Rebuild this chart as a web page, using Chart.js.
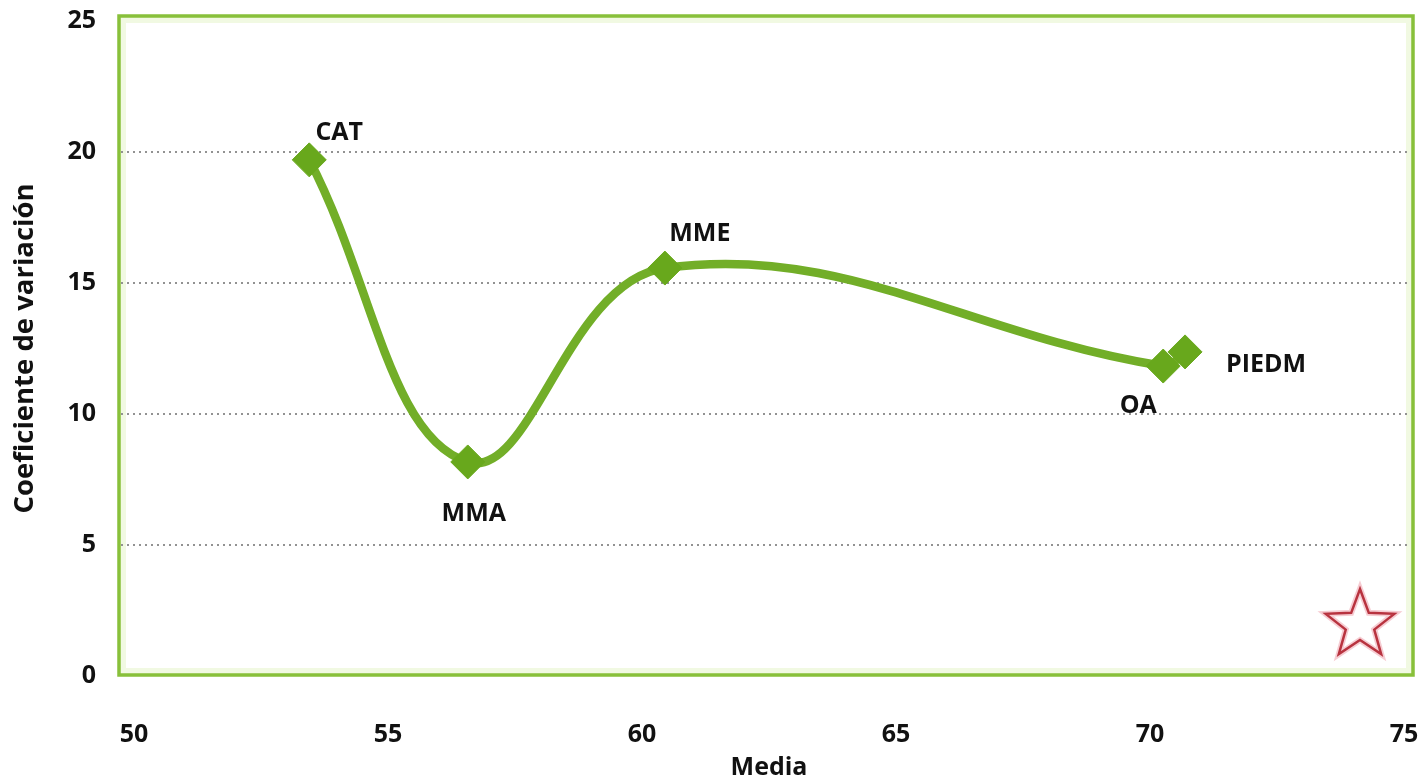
<!DOCTYPE html>
<html>
<head>
<meta charset="utf-8">
<script src="https://cdn.jsdelivr.net/npm/chart.js@4/dist/chart.umd.min.js"></script>
<style>
  html, body { margin: 0; padding: 0; background: #ffffff; }
  #wrap { width: 1423px; height: 779px; position: relative; }
</style>
</head>
<body>
<div id="wrap"><canvas id="c" width="1423" height="779"></canvas></div>
<script>
// Groups, their mean (Media) and coefficient of variation
const groups = ['CAT', 'MMA', 'MME', 'OA', 'PIEDM'];
const media = [53.45, 56.57, 60.45, 70.26, 70.69];
const coefVariacion = [19.7, 8.17, 15.57, 11.83, 12.37];
const xTicks = [50, 55, 60, 65, 70, 75];
const yTicks = [0, 5, 10, 15, 20, 25];

const FONT = '"Open Sans", "Noto Sans", sans-serif';
const LINE_GREEN = '#72ae28';
const MARK_GREEN = '#68a81c';

// Where each group name sits relative to its marker (pixels)
const nameOffsets = {
  CAT: [30, -27], MMA: [6, 52], MME: [35, -34], OA: [-25, 40], PIEDM: [81, 13]
};

const points = media.map((m, i) => ({ x: m, y: coefVariacion[i] }));

// Keep the plot area exactly where the layout padding puts it
function noOverflow(s) {
  s.paddingTop = 0; s.paddingBottom = 0; s.paddingLeft = 0; s.paddingRight = 0;
}

// Green frame, dotted grid lines and the star emblem
const framePlugin = {
  id: 'frame',
  beforeDatasetsDraw(chart) {
    const { ctx, chartArea: a, scales } = chart;
    const L = a.left - 15, R = a.right + 9, T = a.top - 5, B = a.bottom - 1;
    ctx.save();
    // soft inner glow
    ctx.strokeStyle = 'rgba(225,242,190,0.45)';
    ctx.lineWidth = 6;
    ctx.strokeRect(L + 4, T + 4, R - L - 8, B - T - 8);
    // dotted grid
    ctx.strokeStyle = '#929292';
    ctx.lineWidth = 2;
    ctx.setLineDash([2, 4]);
    yTicks.forEach(v => {
      if (v === 0 || v === 25) return;
      const y = Math.round(scales.y.getPixelForValue(v));
      ctx.beginPath();
      ctx.moveTo(L + 2, y);
      ctx.lineTo(R - 2, y);
      ctx.stroke();
    });
    ctx.setLineDash([]);
    // frame
    ctx.strokeStyle = '#88c03a';
    ctx.lineWidth = 3.5;
    ctx.strokeRect(L, T, R - L, B - T);
    // star
    const cx = a.right - 44, cy = a.bottom - 51, ro = 36, ri = 15;
    ctx.beginPath();
    for (let k = 0; k < 10; k++) {
      const r = k % 2 === 0 ? ro : ri;
      const ang = -Math.PI / 2 + k * Math.PI / 5;
      const px = cx + r * Math.cos(ang), py = cy + r * Math.sin(ang);
      if (k === 0) ctx.moveTo(px, py); else ctx.lineTo(px, py);
    }
    ctx.closePath();
    ctx.fillStyle = '#ffffff';
    ctx.fill();
    ctx.strokeStyle = 'rgba(240,170,180,0.6)';
    ctx.lineWidth = 6;
    ctx.stroke();
    ctx.strokeStyle = '#b8333f';
    ctx.lineWidth = 2.5;
    ctx.stroke();
    ctx.restore();
  },
  afterDatasetsDraw(chart) {
    const { ctx } = chart;
    const meta = chart.getDatasetMeta(0);
    ctx.save();
    ctx.font = 'bold 25px ' + FONT;
    ctx.fillStyle = '#111111';
    ctx.textAlign = 'center';
    ctx.textBaseline = 'middle';
    meta.data.forEach((el, i) => {
      const name = groups[i];
      const off = nameOffsets[name];
      ctx.fillText(name, el.x + off[0], el.y + off[1]);
    });
    ctx.restore();
  }
};

new Chart(document.getElementById('c'), {
  type: 'scatter',
  data: {
    datasets: [{
      data: points,
      showLine: true,
      tension: 0.4,
      borderColor: LINE_GREEN,
      borderWidth: 8.5,
      pointStyle: 'rectRot',
      pointRadius: 17,
      pointHoverRadius: 17,
      pointBackgroundColor: MARK_GREEN,
      pointBorderColor: MARK_GREEN,
      pointBorderWidth: 1
    }]
  },
  options: {
    responsive: false,
    animation: false,
    layout: { padding: { top: 21, right: 19, bottom: 0, left: 0 } },
    plugins: { legend: { display: false }, tooltip: { enabled: false } },
    scales: {
      x: {
        type: 'linear',
        min: 50, max: 75,
        afterBuildTicks: s => { s.ticks = xTicks.map(v => ({ value: v })); },
        afterFit: s => { s.height = 103; noOverflow(s); },
        grid: { display: false, drawTicks: false },
        border: { display: false },
        ticks: { color: '#111', padding: 44, font: { family: FONT, size: 25, weight: 'bold' } },
        title: {
          display: true, text: 'Media', color: '#111',
          padding: { top: 0, bottom: -4 },
          font: { family: FONT, size: 25, weight: 'bold' }
        }
      },
      y: {
        type: 'linear',
        min: 0, max: 25,
        afterBuildTicks: s => { s.ticks = yTicks.map(v => ({ value: v })); },
        afterFit: s => { s.width = 134; noOverflow(s); },
        grid: { display: false, drawTicks: false },
        border: { display: false },
        ticks: { color: '#111', padding: 38, font: { family: FONT, size: 25, weight: 'bold' } },
        title: {
          display: true, text: 'Coeficiente de variación', color: '#111',
          padding: { top: 9, bottom: 0 },
          font: { family: FONT, size: 27.5, weight: 'bold' }
        }
      }
    }
  },
  plugins: [framePlugin]
});
</script>
</body>
</html>
